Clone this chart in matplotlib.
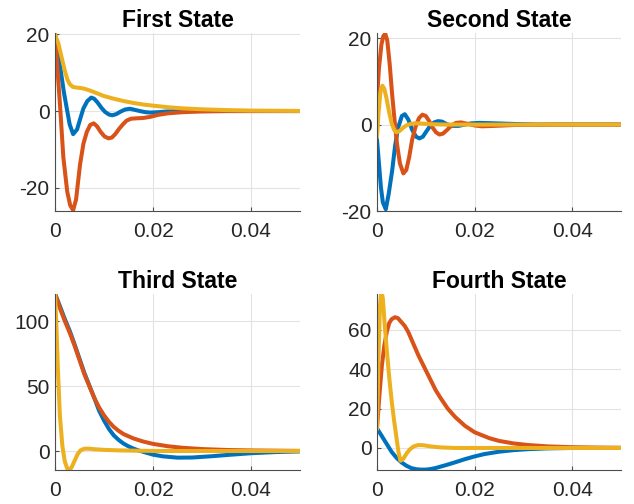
import matplotlib

matplotlib.use("Agg")
import matplotlib.pyplot as plt

# MATLAB default line colours
BLUE = "#0072BD"
ORANGE = "#D95319"
YELLOW = "#EDB120"

titles = ["First State", "Second State", "Third State", "Fourth State"]

# First State
t1_blue = [0, 0.001, 0.0018, 0.0024, 0.003, 0.0037, 0.0045, 0.0052, 0.0058, 0.0066, 0.0074, 0.0080,
           0.0087, 0.0095, 0.0102, 0.0110, 0.0117, 0.0125, 0.0133, 0.0143, 0.0153, 0.0163, 0.0173,
           0.0185, 0.0195, 0.021, 0.023, 0.026, 0.03, 0.05]
y1_blue = [20, 12, 5, 0.7, -3.5, -6, -4.8, -1.8, 0.7, 2.6, 3.5, 3.2, 2.2, 0.8, -0.2, -0.9, -1.1,
           -0.8, -0.2, 0.4, 0.6, 0.3, 0, -0.3, -0.4, -0.3, -0.1, 0, 0, 0]
t1_orange = [0, 0.0005, 0.001, 0.0017, 0.0025, 0.0031, 0.0037, 0.0043, 0.0051, 0.0058, 0.0065, 0.0072,
             0.0079, 0.0086, 0.0093, 0.0101, 0.0109, 0.0116, 0.0123, 0.0131, 0.0139, 0.0146, 0.0155,
             0.0165, 0.018, 0.0195, 0.021, 0.023, 0.026, 0.03, 0.035, 0.05]
y1_orange = [20, 11, 2, -12, -21, -24.5, -25.8, -23, -14, -8.5, -5.4, -3.6, -3.2, -4.0, -5.4, -6.6,
             -7.1, -6.9, -6.0, -4.6, -3.4, -2.5, -2.0, -1.9, -1.8, -1.5, -1.0, -0.6, -0.3, -0.1, 0, 0]
t1_yellow = [0, 0.0007, 0.0014, 0.002, 0.0025, 0.003, 0.0036, 0.0044, 0.0052, 0.006, 0.007, 0.008,
             0.009, 0.010, 0.012, 0.014, 0.016, 0.018, 0.020, 0.023, 0.026, 0.03, 0.035, 0.04, 0.05]
y1_yellow = [20, 17.5, 13.7, 10.5, 8.3, 7.0, 6.3, 6.1, 6.0, 5.8, 5.4, 4.9, 4.4, 3.9, 3.2, 2.6, 2.1,
             1.7, 1.4, 1.0, 0.7, 0.45, 0.25, 0.12, 0.03]

# Second State
t2_blue = [0, 0.0004, 0.0008, 0.0012, 0.0018, 0.0024, 0.0031, 0.0037, 0.0043, 0.0051, 0.0057, 0.0064,
           0.0072, 0.0080, 0.0087, 0.0094, 0.0101, 0.0109, 0.0117, 0.0125, 0.0133, 0.0143, 0.0155,
           0.0167, 0.018, 0.0194, 0.021, 0.024, 0.028, 0.033, 0.05]
y2_blue = [-3.5, -9, -14.5, -18, -19.6, -16, -10.7, -5, -0.8, 2.0, 2.4, 1.2, -1.2, -2.8, -3.2, -2.8,
           -1.6, -0.3, 0.5, 0.8, 0.7, 0.1, -0.3, -0.3, 0, 0.3, 0.4, 0.3, 0.15, 0, 0]
t2_orange = [0, 0.0004, 0.0009, 0.0013, 0.0017, 0.0021, 0.0026, 0.0031, 0.0036, 0.0041, 0.0047, 0.0054,
             0.006, 0.0066, 0.0072, 0.0079, 0.0086, 0.0093, 0.0100, 0.0107, 0.0114, 0.0121, 0.0128,
             0.0135, 0.0143, 0.0152, 0.0162, 0.0172, 0.0185, 0.020, 0.0215, 0.024, 0.028, 0.035, 0.05]
y2_orange = [6, 13, 18.5, 20.5, 21, 19.5, 14, 7, 1, -4.5, -9, -11.3, -10.5, -7.5, -3.5, -0.5, 1.5,
             2.3, 2.0, 0.8, -0.7, -1.8, -2.3, -2.1, -1.3, -0.3, 0.4, 0.5, 0.2, -0.2, -0.4, -0.3, -0.1, 0, 0]
t2_yellow = [0, 0.0003, 0.0007, 0.0011, 0.0015, 0.002, 0.0025, 0.003, 0.0035, 0.004, 0.0046, 0.0053,
             0.006, 0.007, 0.008, 0.009, 0.011, 0.014, 0.05]
y2_yellow = [-2.8, 2.5, 7.5, 9.0, 8.3, 5.8, 2.8, 0.3, -1.2, -1.8, -1.5, -0.8, -0.2, 0.2, 0.3, 0.25,
             0.1, 0, 0]

# Third State
t3_blue = [0, 0.001, 0.002, 0.003, 0.004, 0.005, 0.006, 0.007, 0.008, 0.009, 0.010, 0.011, 0.012,
           0.013, 0.014, 0.015, 0.016, 0.017, 0.018, 0.020, 0.022, 0.025, 0.028, 0.032, 0.036, 0.040,
           0.045, 0.050]
y3_blue = [121, 111.5, 101.5, 92.5, 82, 71, 60, 50.5, 41, 31, 23.5, 17, 12, 8.5, 5.7, 3.6, 1.9, 0.5,
           -0.6, -2.8, -4.1, -5.1, -5.0, -4.0, -2.8, -1.7, -0.8, -0.3]
t3_orange = [0, 0.001, 0.002, 0.003, 0.004, 0.005, 0.006, 0.007, 0.008, 0.009, 0.010, 0.011, 0.012,
             0.013, 0.014, 0.016, 0.018, 0.020, 0.023, 0.026, 0.030, 0.035, 0.040, 0.050]
y3_orange = [121, 110, 100, 91, 81, 70, 59, 50, 41, 33.5, 27.5, 22.5, 18.5, 15.5, 13, 9.7, 7.3, 5.5,
             3.7, 2.5, 1.5, 0.8, 0.45, 0.1]
t3_yellow = [0, 0.0003, 0.0006, 0.001, 0.0015, 0.002, 0.0025, 0.0029, 0.0034, 0.004, 0.0046, 0.0052,
             0.006, 0.007, 0.008, 0.010, 0.013, 0.017, 0.022, 0.05]
y3_yellow = [121, 95, 62, 27, 4, -8, -13.5, -14.6, -12.5, -7.5, -2.5, 0.5, 1.8, 1.8, 1.4, 0.9, 0.5,
             0.2, 0, 0]

# Fourth State
t4_blue = [0, 0.001, 0.002, 0.003, 0.004, 0.005, 0.006, 0.007, 0.008, 0.009, 0.010, 0.011, 0.012,
           0.014, 0.016, 0.018, 0.020, 0.022, 0.025, 0.028, 0.031, 0.035, 0.040, 0.050]
y4_blue = [10, 6, 2, -2, -5, -7.3, -9, -10.2, -10.8, -11, -11, -10.7, -10.2, -8.8, -7.3, -5.7, -4.3,
           -3.1, -1.9, -1.1, -0.6, -0.2, 0, 0]
t4_orange = [0, 0.0005, 0.001, 0.0015, 0.002, 0.0025, 0.003, 0.0037, 0.0043, 0.005, 0.0057, 0.0064,
             0.0071, 0.0078, 0.0085, 0.0092, 0.010, 0.011, 0.012, 0.013, 0.0145, 0.016, 0.018, 0.020,
             0.023, 0.025, 0.028, 0.031, 0.035, 0.040, 0.045, 0.050]
y4_orange = [10, 27, 42, 52, 59, 63.5, 65.5, 66.5, 66, 64, 62, 59, 55, 51, 47, 43.5, 39.5, 34.5, 29.5,
             25.5, 20, 15.8, 11.3, 8, 5, 3.6, 2.3, 1.5, 0.8, 0.4, 0.2, 0.1]
t4_yellow = [0, 0.0003, 0.0006, 0.0009, 0.0012, 0.0016, 0.002, 0.0025, 0.003, 0.0035, 0.004, 0.0044,
             0.0048, 0.0054, 0.006, 0.0067, 0.0075, 0.0085, 0.0095, 0.011, 0.013, 0.016, 0.05]
y4_yellow = [10, 45, 72, 80, 76, 62, 50, 36, 24, 14, 5, -2, -6.5, -5.5, -3, -0.8, 0.8, 1.5, 1.4, 0.8,
             0.3, 0, 0]

x_ticks = [0, 0.02, 0.04]
x_ticklabels = ["0", "0.02", "0.04"]
y_ticks = [[-20, 0, 20], [-20, 0, 20], [0, 50, 100], [0, 20, 40, 60]]
y_limits = [(-26, 20.3), (-19.8, 21.2), (-14.6, 120.8), (-11.2, 78.3)]

series = [
    [(t1_blue, y1_blue), (t1_orange, y1_orange), (t1_yellow, y1_yellow)],
    [(t2_blue, y2_blue), (t2_orange, y2_orange), (t2_yellow, y2_yellow)],
    [(t3_blue, y3_blue), (t3_orange, y3_orange), (t3_yellow, y3_yellow)],
    [(t4_blue, y4_blue), (t4_orange, y4_orange), (t4_yellow, y4_yellow)],
]

plt.rcParams["font.family"] = ["Liberation Sans", "DejaVu Sans"]
plt.rcParams["axes.unicode_minus"] = False

W, H = 634, 504
fig = plt.figure(figsize=(W / 100, H / 100), dpi=100)

# axes boxes in pixels: (left, top, right, bottom)
boxes = [(55, 33, 300, 211), (377, 33, 621, 211), (55, 294, 300, 470), (377, 294, 621, 470)]

for i, (l, t, r, b) in enumerate(boxes):
    ax = fig.add_axes([l / W, 1 - b / H, (r - l) / W, (b - t) / H])
    for (tt, yy), color in zip(series[i], [BLUE, ORANGE, YELLOW]):
        ax.plot(tt, yy, color=color, lw=2.9, solid_joinstyle="round", clip_on=True)
    ax.set_xlim(0, 0.05)
    ax.set_ylim(*y_limits[i])
    ax.set_xticks(x_ticks)
    ax.set_xticklabels(x_ticklabels)
    ax.set_yticks(y_ticks[i])
    ax.grid(True, color="#e3e3e3", lw=0.8)
    ax.set_axisbelow(True)
    for side in ["top", "right"]:
        ax.spines[side].set_visible(False)
    for side in ["left", "bottom"]:
        ax.spines[side].set_color("#4d4d4d")
        ax.spines[side].set_linewidth(0.8)
    ax.tick_params(direction="in", length=3, width=0.8, color="#4d4d4d",
                   labelsize=15, labelcolor="#262626")
    ax.tick_params(axis="x", pad=8)
    ax.tick_params(axis="y", pad=4)
    ax.set_title(titles[i], fontsize=16.5, fontweight="bold", color="black", pad=4)

fig.savefig("out.png", dpi=100)
